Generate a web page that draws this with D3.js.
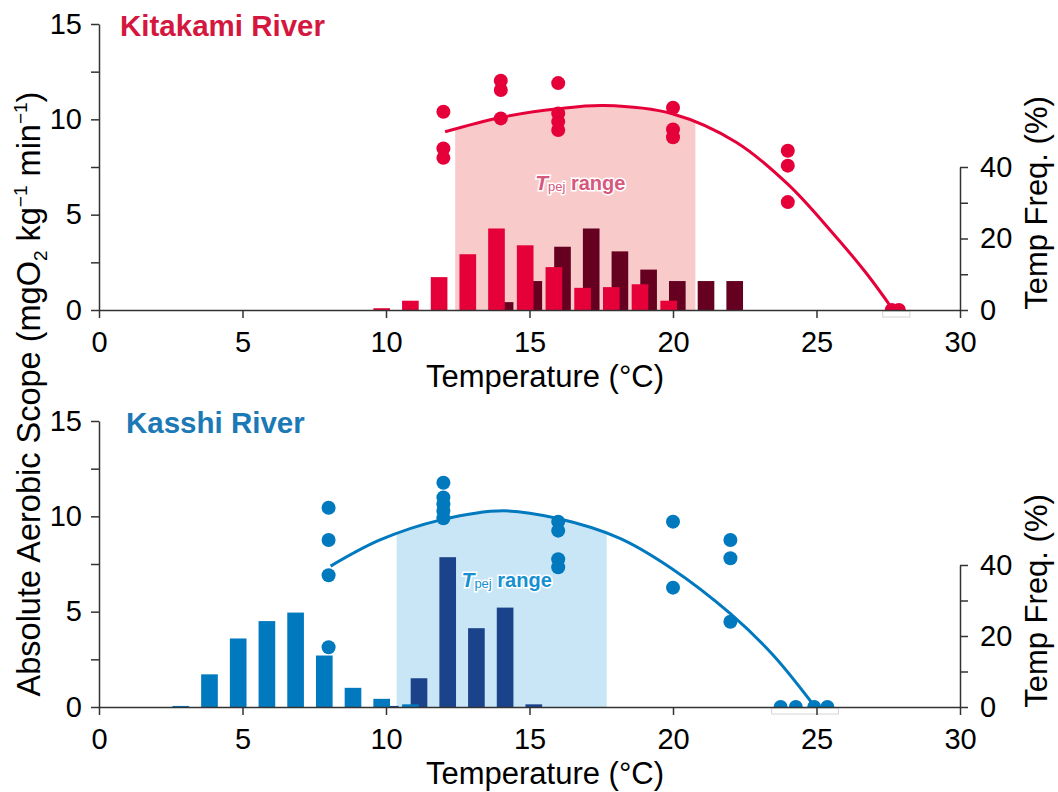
<!DOCTYPE html>
<html>
<head>
<meta charset="utf-8">
<script src="https://cdn.jsdelivr.net/npm/d3@7"></script>
<style>
  body { margin: 0; background: #fff; }
  text { font-family: "Liberation Sans", Arial, sans-serif; }
</style>
</head>
<body>
<svg id="chart" width="1058" height="792"></svg>
<script>
// axis ticks
const xTicks = [0, 5, 10, 15, 20, 25, 30];
const scopeTicks = [0, 2.5, 5, 7.5, 10, 12.5, 15];
const freqTicks = [0, 10, 20, 30, 40];

// Kitakami River
const kitaBarTempA = [10, 11, 12, 13, 14, 15, 16, 17, 18, 19, 20];
const kitaBarFreqA = [0.5, 2.6, 9.2, 15.6, 22.8, 18.1, 12.0, 6.2, 6.4, 7.2, 2.6];
const kitaBarTempB = [14, 15, 16, 17, 18, 19, 20, 21, 22];
const kitaBarFreqB = [2.2, 8.1, 17.7, 22.8, 16.4, 11.3, 8.1, 8.1, 8.1];
const kitaDotTemp = [12, 12, 12, 14, 14, 14, 16, 16, 16, 16, 20, 20, 20, 24, 24, 24, 27.62, 27.87];
const kitaDotScope = [10.4, 8.47, 7.98, 12.02, 11.54, 10.05, 11.9, 10.31, 9.88, 9.44, 10.61, 9.47, 9.06, 8.35, 7.57, 5.66, 0, 0];
const kitaCurveTemp = [12.06, 14, 16, 17.6, 20, 22.2, 24, 25.47, 26.75, 27.67];
const kitaCurveScope = [9.35, 10.1, 10.55, 10.72, 10.28, 8.8, 6.6, 4.2, 1.9, 0];
const kitaTpej = [12.41, 20.78];

// Kasshi River
const kassBarTempA = [3, 4, 5, 6, 7, 8, 9, 10, 11];
const kassBarFreqA = [0.3, 9.2, 19.3, 24.2, 26.6, 14.5, 5.4, 2.3, 0.75];
const kassBarTempB = [10, 11, 12, 13, 14, 15];
const kassBarFreqB = [0.3, 8.1, 42.2, 22.2, 28.0, 0.75];
const kassDotTemp = [8, 8, 8, 8, 12, 12, 12, 12, 12, 16, 16, 16, 16, 20, 20, 22, 22, 22, 23.75, 24.28, 24.92, 25.38];
const kassDotScope = [10.45, 8.76, 6.91, 3.13, 11.76, 10.99, 10.64, 10.28, 9.9, 9.72, 9.25, 7.75, 7.33, 9.72, 6.26, 8.76, 7.8, 4.47, 0, 0, 0, 0];
const kassCurveTemp = [8.07, 9.79, 11.88, 14.09, 15.95, 18.15, 19.95, 21.99, 23.5, 24.95];
const kassCurveScope = [7.39, 8.76, 9.8, 10.29, 9.9, 8.85, 7.27, 4.91, 2.7, 0];
const kassTpej = [10.37, 17.69];

const svg = d3.select('#chart');
const x = d3.scaleLinear().domain([0, 30]).range([99, 960]);
const axisColor = '#333';
const barW = 0.58;     // bar width in °C
const barShift = 0.15; // offset of the two bar series
const smooth = d3.curveCatmullRom.alpha(0.5);

function drawPanel(p) {
    const g = svg.append('g');
    const y = d3.scaleLinear().domain([0, 15]).range([p.bottom, p.top]);
    const yF = d3.scaleLinear().domain([0, 40]).range([p.bottom, p.freqTop]);

    const defs = g.append('defs');
    defs.append('clipPath').attr('id', p.id + '-tpej')
        .append('rect')
        .attr('x', x(p.tpej[0])).attr('width', x(p.tpej[1]) - x(p.tpej[0]))
        .attr('y', 0).attr('height', p.bottom);
    defs.append('clipPath').attr('id', p.id + '-plot')
        .append('rect')
        .attr('x', 0).attr('width', 1058)
        .attr('y', 0).attr('height', p.bottom);

    const curve = p.curveT.map((t, i) => [t, p.curveV[i]]);

    // Tpej shaded region under the fitted curve
    const area = d3.area()
        .x(d => x(d[0]))
        .y0(y(0))
        .y1(d => y(d[1]))
        .curve(smooth);
    g.append('path')
        .attr('d', area(curve))
        .attr('fill', p.shade)
        .attr('clip-path', 'url(#' + p.id + '-tpej)');

    // Tpej label
    const lbl = g.append('text')
        .attr('x', (x(p.tpej[0]) + x(p.tpej[1])) / 2 + 5)
        .attr('y', y(6.3))
        .attr('text-anchor', 'middle')
        .attr('font-weight', 'bold')
        .attr('fill', p.labelColor)
        .attr('stroke', '#fff')
        .attr('stroke-width', 3)
        .attr('paint-order', 'stroke')
        .attr('font-size', 20);
    lbl.append('tspan').attr('font-style', 'italic').attr('font-size', 21).text('T');
    lbl.append('tspan').attr('font-size', 13).attr('font-weight', 'normal').attr('dy', 1).text('pej');
    lbl.append('tspan').attr('dy', -1).text(' range');

    // temperature frequency bars (back series first)
    const barsB = p.barTB.map((t, i) => [t, p.barFB[i]]);
    const barsA = p.barTA.map((t, i) => [t, p.barFA[i]]);
    g.append('g').selectAll('rect').data(barsB).enter().append('rect')
        .attr('x', d => x(d[0] + barShift - barW / 2))
        .attr('width', x(barW) - x(0))
        .attr('y', d => yF(d[1]))
        .attr('height', d => yF(0) - yF(d[1]))
        .attr('fill', p.barColorB);
    g.append('g').selectAll('rect').data(barsA).enter().append('rect')
        .attr('x', d => x(d[0] - barShift - barW / 2))
        .attr('width', x(barW) - x(0))
        .attr('y', d => yF(d[1]))
        .attr('height', d => yF(0) - yF(d[1]))
        .attr('fill', p.barColorA);

    // fitted curve
    const line = d3.line()
        .x(d => x(d[0]))
        .y(d => y(d[1]))
        .curve(smooth);
    g.append('path')
        .attr('d', line(curve))
        .attr('fill', 'none')
        .attr('stroke', p.color)
        .attr('stroke-width', 3);

    // individual fish
    const dots = p.dotT.map((t, i) => [t, p.dotV[i]]);
    g.append('g')
        .attr('clip-path', 'url(#' + p.id + '-plot)')
        .selectAll('circle').data(dots).enter().append('circle')
        .attr('cx', d => x(d[0]))
        .attr('cy', d => y(d[1]))
        .attr('r', 7)
        .attr('fill', p.color);

    // faint box under the zero-scope points
    const zeros = dots.filter(d => d[1] === 0).map(d => x(d[0]));
    g.append('rect')
        .attr('x', d3.min(zeros) - 9)
        .attr('y', y(0) + 1)
        .attr('width', d3.max(zeros) - d3.min(zeros) + 20)
        .attr('height', 6)
        .attr('fill', '#fff')
        .attr('stroke', '#d4d4d4')
        .attr('stroke-width', 1);

    // axes
    const ax = g.append('g')
        .attr('transform', 'translate(0,' + y(0) + ')')
        .call(d3.axisBottom(x).tickValues(xTicks).tickSize(8).tickSizeOuter(0).tickPadding(13));
    const ay = g.append('g')
        .attr('transform', 'translate(' + x(0) + ',0)')
        .call(d3.axisLeft(y).tickValues(scopeTicks).tickSize(8).tickSizeOuter(0).tickPadding(9)
            .tickFormat(d => d % 5 === 0 ? d : ''));
    const af = g.append('g')
        .attr('transform', 'translate(' + x(30) + ',0)')
        .call(d3.axisRight(yF).tickValues(freqTicks).tickSize(8).tickSizeOuter(0).tickPadding(12)
            .tickFormat(d => d % 20 === 0 ? d : ''));
    [ax, ay, af].forEach(a => {
        a.selectAll('.domain, .tick line').attr('stroke', axisColor).attr('stroke-width', 1.5);
        a.selectAll('text').attr('font-size', 29).attr('fill', '#000')
            .style('font-family', '"Liberation Sans", Arial, sans-serif');
    });

    // panel title and axis titles
    g.append('text')
        .attr('x', p.titleX).attr('y', p.top + 12)
        .attr('font-size', 29.5).attr('font-weight', 'bold')
        .attr('fill', p.titleColor)
        .text(p.title);
    g.append('text')
        .attr('x', 545).attr('y', y(0) + 77)
        .attr('text-anchor', 'middle')
        .attr('font-size', 31)
        .text('Temperature (°C)');
    g.append('text')
        .attr('transform', 'translate(1047,' + (yF(40) + 36) + ') rotate(-90)')
        .attr('text-anchor', 'middle')
        .attr('font-size', 31)
        .text('Temp Freq. (%)');
}

drawPanel({
    id: 'kita', title: 'Kitakami River', titleX: 120, titleColor: '#d4173f',
    top: 24, bottom: 310, freqTop: 167,
    color: '#e6003a', shade: '#f8caca', labelColor: '#d6587d',
    barColorA: '#e6003a', barColorB: '#650021',
    barTA: kitaBarTempA, barFA: kitaBarFreqA, barTB: kitaBarTempB, barFB: kitaBarFreqB,
    dotT: kitaDotTemp, dotV: kitaDotScope,
    curveT: kitaCurveTemp, curveV: kitaCurveScope, tpej: kitaTpej
});

drawPanel({
    id: 'kass', title: 'Kasshi River', titleX: 126, titleColor: '#1b79b5',
    top: 421, bottom: 707, freqTop: 565,
    color: '#0079be', shade: '#c8e6f6', labelColor: '#1690d2',
    barColorA: '#0079be', barColorB: '#1b438b',
    barTA: kassBarTempA, barFA: kassBarFreqA, barTB: kassBarTempB, barFB: kassBarFreqB,
    dotT: kassDotTemp, dotV: kassDotScope,
    curveT: kassCurveTemp, curveV: kassCurveScope, tpej: kassTpej
});

// shared y axis title
const yt = svg.append('text')
    .attr('transform', 'translate(40,394) rotate(-90)')
    .attr('text-anchor', 'middle')
    .attr('font-size', 32.5);
yt.append('tspan').text('Absolute Aerobic Scope (mgO');
yt.append('tspan').attr('font-size', 19).attr('dy', 7).text('2');
yt.append('tspan').attr('dy', -7).text(' kg');
yt.append('tspan').attr('font-size', 19).attr('dy', -13).text('−1');
yt.append('tspan').attr('dy', 13).text(' min');
yt.append('tspan').attr('font-size', 19).attr('dy', -13).text('−1');
yt.append('tspan').attr('dy', 13).text(')');
</script>
</body>
</html>
